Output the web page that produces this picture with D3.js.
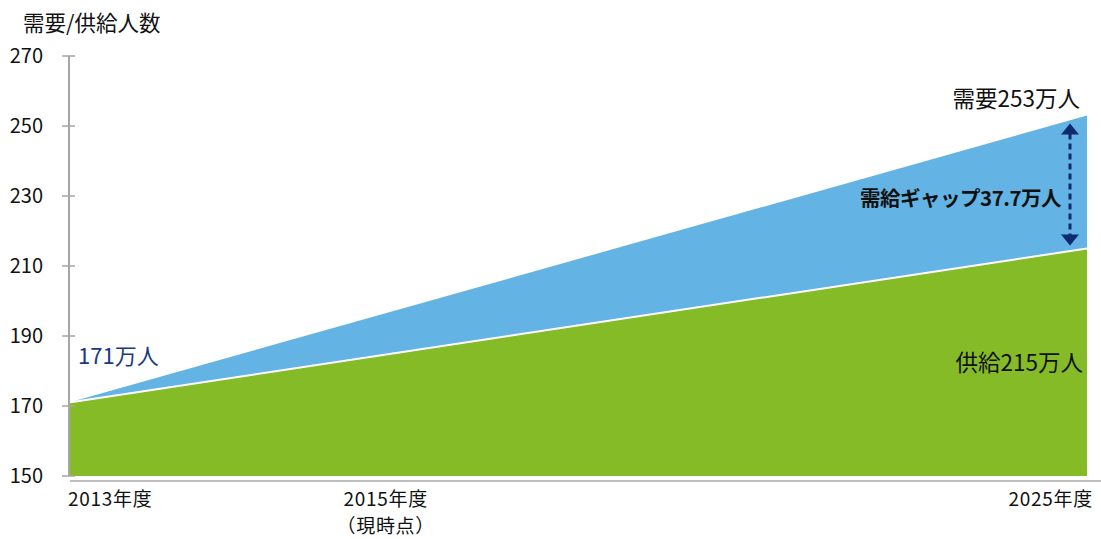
<!DOCTYPE html>
<html>
<head>
<meta charset="utf-8">
<script src="https://cdn.jsdelivr.net/npm/d3@7"></script>
<style>
  body { margin: 0; background: #fff; }
  svg { display: block; }
  text { font-family: "Noto Sans CJK JP", "Liberation Sans", sans-serif; }
</style>
</head>
<body>
<svg width="1101" height="539"></svg>
<script>
// data
let years = [2013, 2025];
let demand = [171, 253];
let supply = [171, 215];
let yTicks = [150, 170, 190, 210, 230, 250, 270];
let xLabels = [
    { lines: ['2013年度'], anchor: 'start', at: 0 },
    { lines: ['2015年度', '（現時点）'], anchor: 'middle', at: 0.31 },
    { lines: ['2025年度'], anchor: 'end', at: 1 }
];
let titleText = '需要/供給人数';
let startLabel = '171万人';
let demandLabel = '需要253万人';
let supplyLabel = '供給215万人';
let gapLabel = '需給ギャップ37.7万人';

let svg = d3.select('svg');
let padLeft = 69, padRight = 1087, padTop = 56, padBottom = 476;

let xScale = d3.scaleLinear().domain([years[0], years[1]]).range([padLeft, padRight]);
let yScale = d3.scaleLinear().domain([150, 270]).range([padBottom, padTop]);
let labelScale = d3.scaleLinear().domain([0, 1]).range([padLeft - 1, padRight + 6]);

let pts = years.map((yr, i) => ({ yr: yr, d: demand[i], s: supply[i] }));

// demand area (blue)
svg.append('path')
    .datum(pts)
    .attr('fill', '#63b4e4')
    .attr('d', d3.area().x(p => xScale(p.yr)).y0(yScale(150)).y1(p => yScale(p.d)));

// supply area (green)
svg.append('path')
    .datum(pts)
    .attr('fill', '#86bb28')
    .attr('d', d3.area().x(p => xScale(p.yr)).y0(yScale(150)).y1(p => yScale(p.s)));

// white edge along supply
svg.append('path')
    .datum(pts)
    .attr('fill', 'none')
    .attr('stroke', '#fff')
    .attr('stroke-width', 2)
    .attr('d', d3.line().x(p => xScale(p.yr)).y(p => yScale(p.s)));

// y axis
let yAxis = svg.append('g');
yAxis.append('line')
    .attr('x1', padLeft).attr('x2', padLeft)
    .attr('y1', yScale(270)).attr('y2', yScale(150))
    .attr('stroke', '#a6a6a6').attr('stroke-width', 2);
yAxis.selectAll('line.tick')
    .data(yTicks)
    .enter()
    .append('line')
    .attr('class', 'tick')
    .attr('x1', padLeft - 7).attr('x2', padLeft + 6)
    .attr('y1', v => yScale(v)).attr('y2', v => yScale(v))
    .attr('stroke', '#a6a6a6').attr('stroke-width', 1.5);
yAxis.selectAll('text')
    .data(yTicks)
    .enter()
    .append('text')
    .attr('x', padLeft - 26)
    .attr('y', v => yScale(v))
    .attr('dy', '0.36em')
    .attr('text-anchor', 'end')
    .attr('font-family', '"Liberation Sans", Arial, sans-serif')
    .attr('font-size', 20)
    .attr('fill', '#111')
    .text(v => v);

// x axis line
svg.append('line')
    .attr('x1', padLeft + 1).attr('x2', 1101)
    .attr('y1', padBottom + 5).attr('y2', padBottom + 5)
    .attr('stroke', '#bfbfbf').attr('stroke-width', 2);

// x labels, one text per line
xLabels.forEach(l => {
    l.lines.forEach((s, i) => {
        svg.append('text')
            .attr('text-anchor', l.anchor)
            .attr('font-size', 19)
            .attr('letter-spacing', 0.7)
            .attr('fill', '#111')
            .attr('x', labelScale(l.at))
            .attr('y', padBottom + 30 + i * 27)
            .text(s);
    });
});

// title
svg.append('text')
    .attr('x', 23).attr('y', 31)
    .attr('font-size', 21.5)
    .attr('fill', '#111')
    .text(titleText);

// annotations
svg.append('text')
    .attr('x', 78).attr('y', 364)
    .attr('font-size', 22)
    .attr('fill', '#1a3a80')
    .text(startLabel);

svg.append('text')
    .attr('x', 1080).attr('y', 107)
    .attr('text-anchor', 'end')
    .attr('font-size', 22.5)
    .attr('fill', '#111')
    .text(demandLabel);

svg.append('text')
    .attr('x', 1083).attr('y', 371)
    .attr('text-anchor', 'end')
    .attr('font-size', 22.5)
    .attr('fill', '#111')
    .text(supplyLabel);

svg.append('text')
    .attr('x', 1061).attr('y', 206)
    .attr('text-anchor', 'end')
    .attr('font-size', 20.5)
    .attr('font-weight', 'bold')
    .attr('letter-spacing', -0.5)
    .attr('fill', '#111')
    .text(gapLabel);

// gap arrow
let ax = xScale(years[1]) - 17;
let yTop = yScale(demand[1]) + 8;
let yBot = yScale(supply[1]) - 3;
svg.append('line')
    .attr('x1', ax).attr('x2', ax)
    .attr('y1', yTop + 10).attr('y2', yBot - 10)
    .attr('stroke', '#0f2a6e').attr('stroke-width', 3)
    .attr('stroke-dasharray', '6,4');
svg.append('path')
    .attr('fill', '#0f2a6e')
    .attr('d', `M${ax},${yTop} L${ax - 9},${yTop + 11} L${ax + 9},${yTop + 11} Z`);
svg.append('path')
    .attr('fill', '#0f2a6e')
    .attr('d', `M${ax},${yBot} L${ax - 9},${yBot - 11} L${ax + 9},${yBot - 11} Z`);
</script>
</body>
</html>
